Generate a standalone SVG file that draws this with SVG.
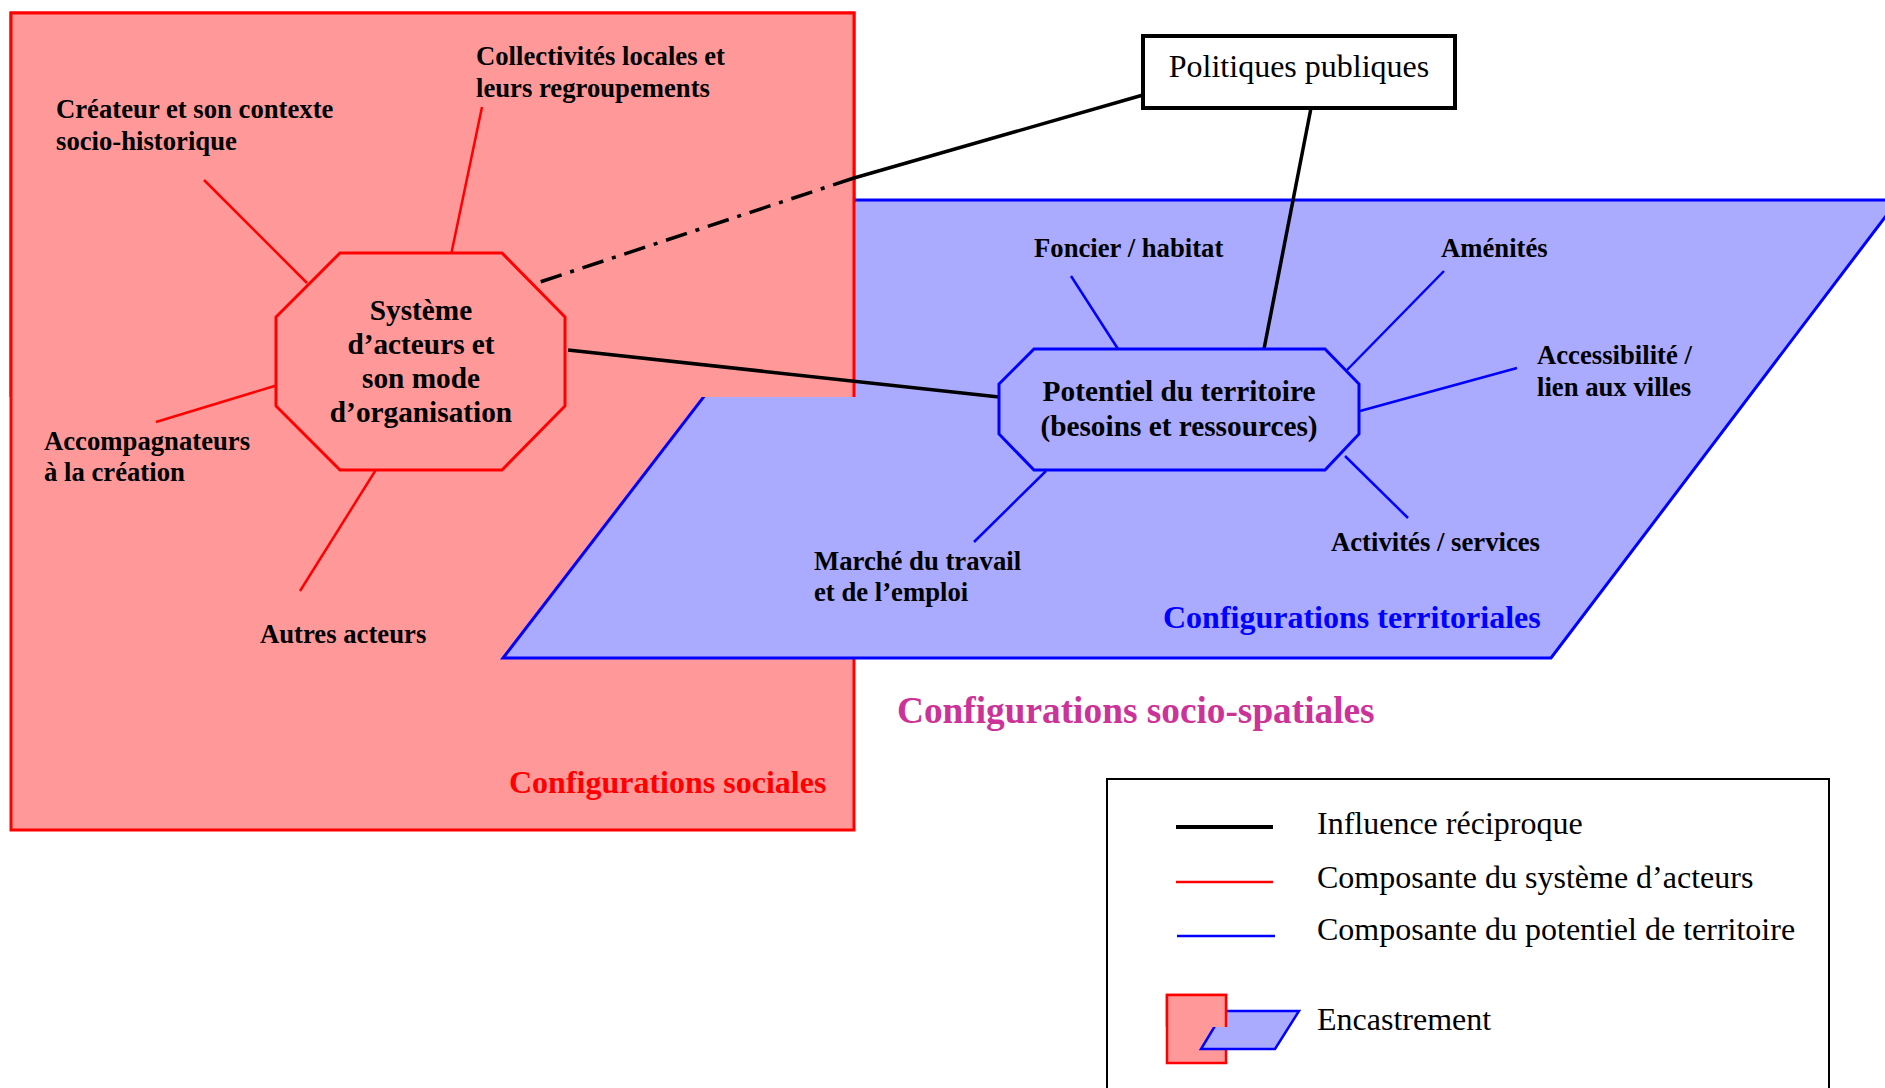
<svg xmlns="http://www.w3.org/2000/svg" width="1885" height="1088" viewBox="0 0 1885 1088">
<style>
.lbl{font-family:"Liberation Serif","Times New Roman",serif;font-weight:bold;font-size:26.7px;fill:#000}
.oct{font-family:"Liberation Serif","Times New Roman",serif;font-weight:bold;font-size:29.3px;fill:#000;text-anchor:middle}
.cfg{font-family:"Liberation Serif","Times New Roman",serif;font-weight:bold;font-size:32px}
.big{font-size:37.3px}
.reg{font-family:"Liberation Serif","Times New Roman",serif;font-size:32px;fill:#000}
.rfill{fill:#ff9999}
.bfill{fill:#aaaaff}
.rl{stroke:#ff0000;stroke-width:2.5;fill:none}
.bl{stroke:#0000ff;stroke-width:2.5;fill:none}
.kl{stroke:#000;stroke-width:3.5;fill:none}
</style>
<rect width="1885" height="1088" fill="#fff"/>
<g id="configurations-sociales">
<rect x="11" y="13" width="843" height="817" class="rfill" stroke="#ff0000" stroke-width="3"/>
</g>
<g id="configurations-territoriales">
<polygon points="855,200 1898,200 1551,658 503,658" class="bfill" stroke="#0000ff" stroke-width="3"/>
</g>
<g id="encastrement-overlay">
<path d="M11,397 L11,13 L854,13 L854,397" class="rfill" stroke="#ff0000" stroke-width="3"/>
</g>
<g id="connectors">
<line x1="482" y1="107" x2="451" y2="255" class="rl"/>
<line x1="204" y1="180" x2="307" y2="283" class="rl"/>
<line x1="156" y1="422" x2="281" y2="384" class="rl"/>
<line x1="377" y1="468" x2="300" y2="591" class="rl"/>
<line x1="1071" y1="276" x2="1118" y2="349" class="bl"/>
<line x1="1444" y1="271" x2="1347" y2="370" class="bl"/>
<line x1="1517" y1="368" x2="1360" y2="411" class="bl"/>
<line x1="1345" y1="456" x2="1408" y2="518" class="bl"/>
<line x1="1046" y1="471" x2="974" y2="542" class="bl"/>
<line x1="1143" y1="95" x2="854" y2="178" class="kl"/>
<line x1="854" y1="178" x2="537" y2="283" class="kl" stroke-dasharray="22 9 4 9"/>
<line x1="1311" y1="108" x2="1264" y2="349" class="kl" stroke-width="3"/>
<line x1="568" y1="350" x2="999" y2="397" class="kl" stroke-width="3"/>
</g>
<g id="systeme-acteurs">
<polygon points="340,253 502,253 565,317 565,406 502,470 340,470 276,406 276,317" class="rfill" stroke="#ff0000" stroke-width="3"/>
<text class="oct" x="421" y="320">Système</text>
<text class="oct" x="421" y="354">d’acteurs et</text>
<text class="oct" x="421" y="388">son mode</text>
<text class="oct" x="421" y="422">d’organisation</text>
</g>
<g id="potentiel-territoire">
<polygon points="1034,349 1325,349 1359,384 1359,434 1325,470 1034,470 999,434 999,384" class="bfill" stroke="#0000ff" stroke-width="3"/>
<text class="oct" x="1179" y="401">Potentiel du territoire</text>
<text class="oct" x="1179" y="436">(besoins et ressources)</text>
</g>
<g id="politiques-publiques">
<rect x="1143" y="36" width="312" height="72" fill="#fff" stroke="#000" stroke-width="4"/>
<text class="reg" x="1299" y="77" text-anchor="middle">Politiques publiques</text>
</g>
<g id="label-createur"><text class="lbl" x="56" y="118">Créateur et son contexte</text><text class="lbl" x="56" y="150">socio-historique</text></g>
<g id="label-collectivites"><text class="lbl" x="476" y="65">Collectivités locales et</text><text class="lbl" x="476" y="97">leurs regroupements</text></g>
<g id="label-accompagnateurs"><text class="lbl" x="44" y="450">Accompagnateurs</text><text class="lbl" x="44" y="481">à la création</text></g>
<g id="label-autres"><text class="lbl" x="260" y="643">Autres acteurs</text></g>
<g id="label-foncier"><text class="lbl" x="1034" y="257">Foncier / habitat</text></g>
<g id="label-amenites"><text class="lbl" x="1441" y="257">Aménités</text></g>
<g id="label-accessibilite"><text class="lbl" x="1537" y="364">Accessibilité /</text><text class="lbl" x="1537" y="396">lien aux villes</text></g>
<g id="label-activites"><text class="lbl" x="1331" y="551">Activités / services</text></g>
<g id="label-marche"><text class="lbl" x="814" y="570">Marché du travail</text><text class="lbl" x="814" y="601">et de l’emploi</text></g>
<text class="cfg" x="509" y="793" fill="#ff0000">Configurations sociales</text>
<text class="cfg" x="1163" y="628" fill="#0000ff">Configurations territoriales</text>
<text class="cfg big" x="897" y="723" fill="#cc3399">Configurations socio-spatiales</text>
<g id="legend">
<rect x="1107" y="779" width="722" height="320" fill="#fff" stroke="#000" stroke-width="2"/>
<line x1="1176" y1="827" x2="1273" y2="827" stroke="#000" stroke-width="4"/>
<line x1="1176" y1="882" x2="1273" y2="882" stroke="#ff0000" stroke-width="2.5"/>
<line x1="1177" y1="936" x2="1275" y2="936" stroke="#0000ff" stroke-width="2.5"/>
<rect x="1167" y="995" width="59" height="68" class="rfill" stroke="#ff0000" stroke-width="2.5"/>
<polygon points="1224,1011 1299,1011 1275,1049 1201,1049" class="bfill" stroke="#0000ff" stroke-width="2.5"/>
<path d="M1167,1027 L1167,995 L1226,995 L1226,1027" class="rfill" stroke="#ff0000" stroke-width="2.5"/>
<text class="reg" x="1317" y="834">Influence réciproque</text>
<text class="reg" x="1317" y="888">Composante du système d’acteurs</text>
<text class="reg" x="1317" y="940">Composante du potentiel de territoire</text>
<text class="reg" x="1317" y="1030">Encastrement</text>
</g>
</svg>
